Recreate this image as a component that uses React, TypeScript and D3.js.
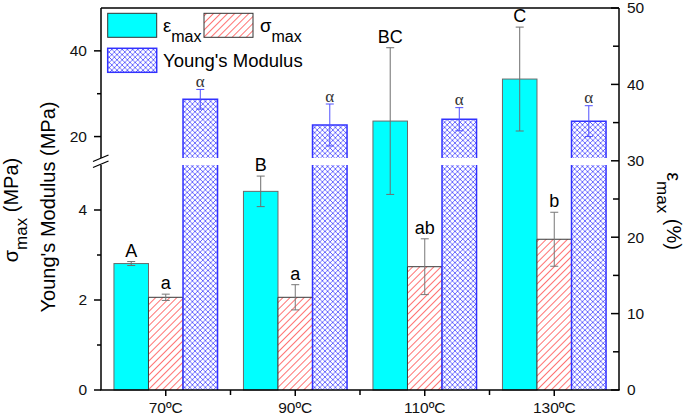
import * as d3 from 'd3'

const W = 685
const H = 417

// categories and series
const categories = ['70ºC', '90ºC', '110ºC', '130ºC']
const series = ['strain', 'stress', 'modulus']

const strainMax = [16.55, 26.0, 35.2, 40.7]
const strainErr = [0.26, 2.0, 9.6, 6.8]
const strainLetters = ['A', 'B', 'BC', 'C']

const stressMax = [2.06, 2.06, 2.74, 3.35]
const stressErr = [0.07, 0.28, 0.62, 0.6]
const stressLetters = ['a', 'a', 'ab', 'b']

const modulus = [28.7, 22.7, 24.05, 23.6]
const modulusErr = [2.3, 4.9, 2.7, 3.6]
const modulusLetters = ['α', 'α', 'α', 'α']

const lowerTicks = [0, 2, 4]
const lowerMinor = [1, 3]
const upperTicks = [20, 40]
const upperMinor = [30]
const rightTicks = [0, 10, 20, 30, 40, 50]
const rightMinor = [5, 15, 25, 35, 45]

const FONT = 'Liberation Sans, Arial, sans-serif'
const RED = 'rgb(255,80,80)'
const BLUE = 'rgb(50,50,255)'

export default function App() {
  const left = 101
  const right = 619
  const top = 8
  const bottom = 390

  const x = d3.scaleBand().domain(categories).range([left, right])
  const xs = d3
    .scaleBand()
    .domain(series)
    .range([-x.bandwidth() * 0.4, x.bandwidth() * 0.4])
  const bw = xs.bandwidth()

  const yLow = d3.scaleLinear().domain([0, 5]).range([bottom, 165])
  const yUp = d3.scaleLinear().domain([15, 50]).range([158, top])
  const yR = d3.scaleLinear().domain([0, 50]).range([bottom, top])

  const cx = (c: string) => (x(c) ?? 0) + x.bandwidth() / 2
  const bx = (c: string, s: string) => cx(c) + (xs(s) ?? 0)

  const errBar = (xc: number, y1: number, y2: number, color: string, key: string) => (
    <g key={key} stroke={color} strokeWidth={1}>
      <line x1={xc} x2={xc} y1={y1} y2={y2} />
      <line x1={xc - 4} x2={xc + 4} y1={y1} y2={y1} />
      <line x1={xc - 4} x2={xc + 4} y1={y2} y2={y2} />
    </g>
  )

  return (
    <svg
      width={W}
      height={H}
      style={{ position: 'absolute', left: 0, top: 0, background: '#fff' }}
      fontFamily={FONT}
    >
      <defs>
        <pattern
          id="redDiag"
          width={5}
          height={6}
          patternUnits="userSpaceOnUse"
          patternTransform="rotate(45)"
        >
          <rect x={0} y={0} width={5} height={6} fill="#ffffff" />
          <rect x={0} y={0} width={0.8} height={6} fill={RED} />
        </pattern>
        <pattern id="blueCross" width={5.2} height={5.2} patternUnits="userSpaceOnUse">
          <rect width={5.2} height={5.2} fill="#ffffff" />
          <path d="M0,0 L5.2,5.2 M5.2,0 L0,5.2" stroke={BLUE} strokeWidth={0.7} fill="none" />
        </pattern>
      </defs>

      {/* strain bars (right axis) */}
      {categories.map((c, i) => {
        const x0 = bx(c, 'strain')
        const xc = x0 + bw / 2
        const yt = yR(strainMax[i])
        return (
          <g key={`s${i}`}>
            <rect x={x0} y={yt} width={bw} height={bottom - yt} fill="#00ffff" stroke="#6a6a6a" strokeWidth={1} />
            {errBar(xc, yR(strainMax[i] + strainErr[i]), yR(strainMax[i] - strainErr[i]), '#6e6e6e', `se${i}`)}
            <text x={xc} y={yR(strainMax[i] + strainErr[i]) - 5} textAnchor="middle" fontSize={18}>
              {strainLetters[i]}
            </text>
          </g>
        )
      })}

      {/* stress bars (left lower axis) */}
      {categories.map((c, i) => {
        const x0 = bx(c, 'stress')
        const xc = x0 + bw / 2
        const yt = yLow(stressMax[i])
        return (
          <g key={`t${i}`}>
            <rect x={x0} y={yt} width={bw} height={bottom - yt} fill="url(#redDiag)" />
            <path d={`M${x0},${bottom} V${yt} H${x0 + bw} V${bottom}`} fill="none" stroke="#3a3a3a" strokeWidth={1} />
            {errBar(xc, yLow(stressMax[i] + stressErr[i]), yLow(stressMax[i] - stressErr[i]), '#777', `te${i}`)}
            <text x={xc} y={yLow(stressMax[i] + stressErr[i]) - 5} textAnchor="middle" fontSize={18}>
              {stressLetters[i]}
            </text>
          </g>
        )
      })}

      {/* modulus bars (left upper axis, broken) */}
      {categories.map((c, i) => {
        const x0 = bx(c, 'modulus')
        const xc = x0 + bw / 2
        const yt = yUp(modulus[i])
        const yb = yUp(15)
        const lowTop = yLow(5)
        return (
          <g key={`m${i}`}>
            <rect x={x0} y={lowTop} width={bw} height={bottom - lowTop} fill="url(#blueCross)" />
            <path
              d={`M${x0},${bottom} V${lowTop} M${x0 + bw},${lowTop} V${bottom}`}
              stroke={BLUE}
              strokeWidth={1.5}
            />
            <rect x={x0} y={yt} width={bw} height={yb - yt} fill="url(#blueCross)" />
            <path d={`M${x0},${yb} V${yt} H${x0 + bw} V${yb}`} fill="none" stroke={BLUE} strokeWidth={1.5} />
            {errBar(xc, yUp(modulus[i] + modulusErr[i]), yUp(modulus[i] - modulusErr[i]), 'rgb(80,80,255)', `me${i}`)}
            <text
              x={xc}
              y={yUp(modulus[i] + modulusErr[i]) - 2.5}
              textAnchor="middle"
              fontSize={17}
              fontFamily="Liberation Serif, Times New Roman, serif"
              fill="#333"
            >
              {modulusLetters[i]}
            </text>
          </g>
        )
      })}

      {/* frame */}
      <g stroke="#000" strokeWidth={1.5} fill="none">
        <line x1={left} x2={right} y1={top} y2={top} />
        <line x1={left - 0.75} x2={right + 0.75} y1={bottom} y2={bottom} />
        <line x1={right} x2={right} y1={top} y2={bottom} />
        <line x1={left} x2={left} y1={top} y2={158} />
        <line x1={left} x2={left} y1={165} y2={bottom} />
        <line x1={93} y1={161.5} x2={108.5} y2={155} strokeWidth={1.3} />
        <line x1={93} y1={167.5} x2={108.5} y2={161} strokeWidth={1.3} />
      </g>

      {/* ticks */}
      <g stroke="#000" strokeWidth={1.5}>
        {lowerTicks.map((t) => (
          <line key={`lt${t}`} x1={left - 7} x2={left} y1={yLow(t)} y2={yLow(t)} />
        ))}
        {lowerMinor.map((t) => (
          <line key={`lm${t}`} x1={left - 4} x2={left} y1={yLow(t)} y2={yLow(t)} />
        ))}
        {upperTicks.map((t) => (
          <line key={`ut${t}`} x1={left - 7} x2={left} y1={yUp(t)} y2={yUp(t)} />
        ))}
        {upperMinor.map((t) => (
          <line key={`um${t}`} x1={left - 4} x2={left} y1={yUp(t)} y2={yUp(t)} />
        ))}
        {rightTicks.map((t) => (
          <line key={`rt${t}`} x1={right - 8} x2={right} y1={yR(t)} y2={yR(t)} />
        ))}
        {rightMinor.map((t) => (
          <line key={`rm${t}`} x1={right - 6} x2={right} y1={yR(t)} y2={yR(t)} />
        ))}
        {categories.map((c) => (
          <line key={`bt${c}`} x1={cx(c)} x2={cx(c)} y1={bottom} y2={bottom + 6} />
        ))}
        {categories.slice(1).map((c) => (
          <line key={`bm${c}`} x1={x(c)} x2={x(c)} y1={bottom} y2={bottom + 5} />
        ))}
      </g>

      <g fontSize={15.5} fill="#111">
        {lowerTicks.map((t) => (
          <text key={`llt${t}`} x={87} y={yLow(t)} dy="0.35em" textAnchor="end">
            {t}
          </text>
        ))}
        {upperTicks.map((t) => (
          <text key={`ult${t}`} x={87} y={yUp(t)} dy="0.35em" textAnchor="end">
            {t}
          </text>
        ))}
        {rightTicks.map((t) => (
          <text key={`rlt${t}`} x={627} y={yR(t)} dy="0.35em" textAnchor="start">
            {t}
          </text>
        ))}
        {categories.map((c) => (
          <text key={`cl${c}`} x={cx(c)} y={413} textAnchor="middle">
            {c}
          </text>
        ))}
      </g>

      {/* axis titles */}
      <text transform="translate(18,210) rotate(-90)" textAnchor="middle" fontSize={20}>
        <tspan>σ</tspan>
        <tspan fontSize={17} dy={9}>
          max
        </tspan>
        <tspan dy={-9}> (MPa)</tspan>
      </text>
      <text transform="translate(55,207) rotate(-90)" textAnchor="middle" fontSize={20}>
        Young's Modulus (MPa)
      </text>
      <text transform="translate(667,211) rotate(90)" textAnchor="middle" fontSize={20}>
        <tspan>ε</tspan>
        <tspan fontSize={17} dy={10}>
          max
        </tspan>
        <tspan dy={-10}> (%)</tspan>
      </text>

      {/* legend */}
      <g>
        <rect x={107.7} y={13.3} width={49} height={24} fill="#00ffff" stroke="#333" strokeWidth={1} />
        <text x={163} y={31.7} fontSize={18.5}>
          <tspan>ε</tspan>
          <tspan fontSize={16} dy={10}>
            max
          </tspan>
        </text>
        <rect x={204} y={13.3} width={49} height={24} fill="url(#redDiag)" stroke="#333" strokeWidth={1} />
        <text x={260} y={31.7} fontSize={18.5}>
          <tspan>σ</tspan>
          <tspan fontSize={16} dy={10}>
            max
          </tspan>
        </text>
        <rect x={107.7} y={48.3} width={49} height={24} fill="url(#blueCross)" stroke={BLUE} strokeWidth={1.5} />
        <text x={163} y={66.7} fontSize={18.5}>
          Young's Modulus
        </text>
      </g>
    </svg>
  )
}
